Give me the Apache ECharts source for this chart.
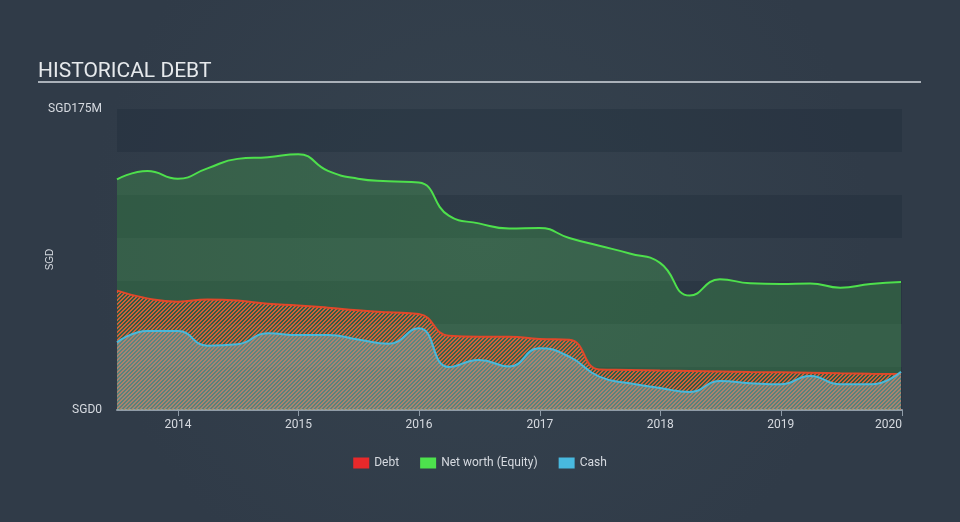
<!DOCTYPE html>
<html>
<head>
<meta charset="utf-8">
<script src="https://cdn.jsdelivr.net/npm/echarts@6/dist/echarts.min.js"></script>
<style>
html, body { margin: 0; padding: 0; background: #333f4d; }
#chart { width: 960px; height: 522px; }
</style>
</head>
<body>
<div id="chart"></div>
<script>
// quarter-end dates, values in SGD millions
const dates = [
	'2013-06-30', '2013-09-30', '2013-12-31', '2014-03-31', '2014-06-30', '2014-09-30', '2014-12-31',
	'2015-03-31', '2015-06-30', '2015-09-30', '2015-12-31', '2016-03-31', '2016-06-30', '2016-09-30',
	'2016-12-31', '2017-03-31', '2017-06-30', '2017-09-30', '2017-12-31', '2018-03-31', '2018-06-30',
	'2018-09-30', '2018-12-31', '2019-03-31', '2019-06-30', '2019-09-30', '2019-12-31'
];
const debt = [
	69.4, 64.9, 63.0, 64.2, 63.6, 61.8, 60.8,
	59.5, 58.0, 56.8, 55.8, 43.2, 42.6, 42.6,
	41.3, 40.8, 23.6, 23.3, 22.9, 22.7, 22.4,
	22.1, 21.9, 21.6, 21.3, 21.1, 20.9
];
const equity = [
	134.1, 139.0, 134.5, 140.5, 146.0, 147.0, 148.7,
	139.0, 134.5, 133.0, 132.2, 113.0, 108.5, 105.5,
	105.8, 100.0, 95.5, 91.0, 85.5, 66.5, 76.0,
	73.7, 73.3, 73.6, 71.1, 73.3, 74.4
];
const cash = [
	39.3, 45.9, 45.9, 37.4, 38.2, 44.6, 43.6,
	43.6, 41.0, 38.5, 47.5, 25.0, 29.1, 25.3,
	35.9, 31.0, 19.4, 15.5, 12.8, 10.5, 16.8,
	15.6, 14.9, 19.8, 14.9, 14.9, 22.3
];
const yTicks = { 0: 'SGD0', 175: 'SGD175M' };

function stripes(on, off) {
	const c = document.createElement('canvas');
	c.width = 4; c.height = 4;
	const ctx = c.getContext('2d');
	for (let x = 0; x < 4; x++) {
		for (let y = 0; y < 4; y++) {
			ctx.fillStyle = (x + y) % 4 < 2 ? on : off;
			ctx.fillRect(x, y, 1, 1);
		}
	}
	return { image: c, repeat: 'repeat' };
}

const pairs = arr => arr.map((v, i) => [dates[i], v]);

const chart = echarts.init(document.getElementById('chart'));
chart.setOption({
	backgroundColor: {
		type: 'radial', x: 0.5, y: 0.45, r: 0.75,
		colorStops: [{ offset: 0, color: '#36434f' }, { offset: 1, color: '#303b48' }]
	},
	animation: false,
	title: {
		text: 'HISTORICAL DEBT',
		left: 33, top: 56,
		textStyle: { color: '#e6e9ec', fontSize: 21, fontWeight: 'normal', fontFamily: 'Roboto' }
	},
	graphic: [{
		type: 'line',
		shape: { x1: 38, y1: 82, x2: 921, y2: 82 },
		style: { stroke: '#aab1b9', lineWidth: 2 }
	}],
	legend: {
		left: 'center', top: 452,
		itemWidth: 16, itemHeight: 11, itemGap: 21,
		icon: 'rect',
		data: ['Debt', 'Net worth (Equity)', 'Cash'],
		textStyle: { color: '#d6dae0', fontSize: 12, fontFamily: 'Roboto' }
	},
	grid: { left: 117, right: 58, top: 109, bottom: 112 },
	xAxis: {
		type: 'time',
		min: '2013-06-30',
		max: '2020-01-03',
		axisLine: { lineStyle: { color: '#8f9ba7', width: 2 } },
		axisTick: { show: true, length: 6, lineStyle: { color: '#8f9ba7', width: 1 } },
		axisLabel: {
			color: '#d6dae0', fontSize: 12, fontFamily: 'Roboto', margin: 9,
			formatter: '{yyyy}', alignMaxLabel: 'right', showMaxLabel: true
		},
		splitLine: { show: false }
	},
	yAxis: {
		type: 'value',
		min: 0, max: 175, interval: 25,
		name: 'SGD',
		nameLocation: 'middle', nameRotate: 90, nameGap: 62, nameMoveOverlap: false,
		nameTextStyle: { color: '#d6dae0', fontSize: 10 },
		axisLine: { show: false },
		axisTick: { show: false },
		axisLabel: {
			color: '#d6dae0', fontSize: 12, fontFamily: 'Roboto', margin: 15,
			formatter: v => yTicks[v] || ''
		},
		splitLine: { show: false },
		splitArea: { show: true, areaStyle: { color: ['rgba(20,30,45,0.22)', 'rgba(0,0,0,0)'] } }
	},
	series: [
		{
			name: 'Net worth (Equity)',
			type: 'line', smooth: 0.5, symbol: 'none',
			data: pairs(equity),
			itemStyle: { color: '#4de24d' },
			lineStyle: { color: '#4ee04c', width: 2 },
			areaStyle: { color: 'rgba(77,225,76,0.22)', opacity: 1 },
			z: 2
		},
		{
			name: 'Debt',
			type: 'line', smooth: 0.5, symbol: 'none',
			data: pairs(debt),
			itemStyle: { color: '#e8292b' },
			lineStyle: { color: '#e0482a', width: 2 },
			areaStyle: { color: stripes('rgba(236,96,52,0.85)', 'rgba(0,0,0,0)'), opacity: 1 },
			z: 3
		},
		{
			name: 'Cash',
			type: 'line', smooth: 0.5, symbol: 'none',
			data: pairs(cash),
			itemStyle: { color: '#48b9df' },
			lineStyle: { color: '#4ab8da', width: 2 },
			areaStyle: { color: stripes('rgba(125,172,180,0.45)', 'rgba(125,172,180,0.5)'), opacity: 1 },
			z: 4
		}
	]
});
</script>
</body>
</html>
